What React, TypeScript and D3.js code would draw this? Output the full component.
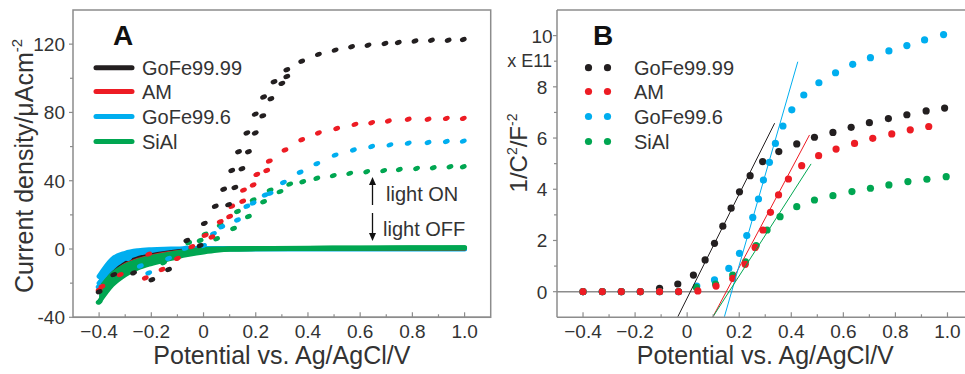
import * as d3 from "d3";

const seriesNames = ["GoFe99.99", "AM", "GoFe99.6", "SiAl"];
const seriesColors = ["#231f20", "#ed1c24", "#00aeef", "#00a651"];

const potentialLabels = [-0.4, -0.2, 0, 0.2, 0.4, 0.6, 0.8, 1.0];
const potentialMinor = [-0.3, -0.1, 0.1, 0.3, 0.5, 0.7, 0.9];
const currentLabels = [-40, 0, 40, 80, 120];
const currentMinor = [-20, 20, 60, 100];
const invCapLabels = [0, 2, 4, 6, 8, 10];
const invCapMinor = [1, 3, 5, 7, 9];

// panel A: photocurrent (light ON) points [V, µA/cm2]
const photoGoFe9999 = [
  [-0.4, -25], [-0.344, -15], [-0.268, -14], [-0.198, -18], [-0.134, -12], [-0.064, 5], [-0.013, 2],
  [0.003, 15], [0.045, 25], [0.096, 26], [0.077, 35], [0.12, 36], [0.108, 46], [0.147, 47],
  [0.134, 57], [0.172, 57], [0.166, 68], [0.198, 68], [0.198, 79], [0.227, 78], [0.23, 89],
  [0.258, 88], [0.27, 98], [0.3, 97], [0.319, 105], [0.319, 101], [0.376, 110], [0.44, 114],
  [0.504, 116.5], [0.567, 118.5], [0.63, 119.4], [0.695, 120.4], [0.746, 121], [0.81, 121.8],
  [0.873, 122.3], [0.937, 122.3], [0.995, 122.7],
];
const photoAM = [
  [-0.4, -24], [-0.389, -22], [-0.319, -15], [-0.223, -17], [-0.21, -3], [-0.159, -12], [-0.1, -5.5],
  [-0.045, 1.4], [0.006, 8], [0.032, 7], [0.064, 16], [0.1, 19], [0.108, 25], [0.15, 28],
  [0.153, 34.5], [0.19, 37.5], [0.204, 43.7], [0.242, 46], [0.252, 51.5], [0.312, 58], [0.376, 64],
  [0.44, 68], [0.51, 70.6], [0.58, 73], [0.644, 74], [0.708, 75], [0.784, 76], [0.86, 76],
  [0.93, 76.5], [0.995, 76.5],
];
const photoGoFe996 = [
  [-0.4, -22], [-0.287, -5.5], [-0.242, -10], [-0.21, -14], [-0.134, -5.5], [-0.07, 0.4], [0, 2],
  [0.038, 9], [0.07, 13], [0.13, 17], [0.166, 25], [0.19, 27], [0.236, 31.6], [0.255, 32.6],
  [0.306, 39], [0.37, 45], [0.434, 50], [0.504, 55], [0.574, 58], [0.644, 60], [0.714, 61],
  [0.784, 62], [0.86, 62.4], [0.93, 63], [0.995, 63.2],
];
const photoSiAl = [
  [-0.4, -31], [-0.153, -8], [-0.057, 3.7], [-0.013, 5], [0.006, 8.6], [0.05, 6], [0.064, 14],
  [0.115, 12], [0.13, 22], [0.172, 19], [0.19, 28.7], [0.23, 27.7], [0.255, 34.5], [0.293, 33.6],
  [0.33, 38], [0.38, 39.4], [0.434, 41.4], [0.497, 43], [0.56, 44.3], [0.625, 45.3], [0.69, 45.9],
  [0.75, 46.6], [0.816, 47.2], [0.88, 47.6], [0.944, 48.2], [0.995, 48.2],
];

// panel A: dark current (light OFF) curves
const darkPotential = [-0.4, -0.35, -0.3, -0.25, -0.2, -0.15, -0.1, -0.05, 0, 0.05, 0.1, 0.2, 0.4, 0.6, 0.8, 1.0];
const darkGoFe996Upper = [-16, -6, -2.5, -1, -0.4, -0.1, 0, 0.3, 0.3, 0.3, 0.3, 0.3, 0.3, 0.3, 0.3, 0.3];
const darkGoFe996Lower = [-20, -11, -6, -3.5, -2, -1.2, -0.6, -0.2, 0, 0, 0, 0, 0, 0, 0, 0];
const darkGoFe9999 = [-24, -14, -8, -5, -3.3, -2, -1, -0.4, 0, 0, 0, 0, 0, 0, 0, 0];
const darkAM = [-23, -15, -9, -6, -4, -2.5, -1.5, -0.7, -0.2, 0, 0, 0, 0, 0, 0, 0];
const darkSiAlFwd = [-24, -15, -10, -7, -5, -3.5, -2.2, -1.2, -0.5, 0, 0.2, 0.3, 0.5, 0.6, 0.7, 0.7];
const darkSiAlRev = [-31, -21, -15, -11, -8.5, -6.5, -4.5, -3, -1.8, -0.8, -0.2, 0.1, 0.3, 0.5, 0.6, 0.7];

// panel B: Mott-Schottky points [V, 1/C2 x E11]
const msGoFe9999 = [
  [-0.4, 0], [-0.326, 0], [-0.253, 0], [-0.18, 0], [-0.106, 0.13], [-0.036, 0.3], [0.024, 0.65],
  [0.069, 1.24], [0.105, 1.89], [0.137, 2.56], [0.169, 3.26], [0.201, 3.9], [0.242, 4.53],
  [0.29, 5.08], [0.352, 5.47], [0.421, 5.77], [0.489, 6.03], [0.56, 6.22], [0.63, 6.42],
  [0.7, 6.6], [0.773, 6.76], [0.844, 6.91], [0.918, 7.06], [0.989, 7.17],
];
const msAM = [
  [-0.4, 0], [-0.326, 0], [-0.253, 0], [-0.18, 0], [-0.106, 0], [-0.033, 0], [0.041, 0.03],
  [0.111, 0.22], [0.175, 0.52], [0.223, 1.07], [0.261, 1.73], [0.291, 2.41], [0.32, 3.1],
  [0.351, 3.78], [0.389, 4.4], [0.44, 4.92], [0.505, 5.31], [0.572, 5.57], [0.643, 5.79],
  [0.713, 5.99], [0.786, 6.16], [0.857, 6.32], [0.928, 6.45],
];
const msGoFe996 = [
  [-0.4, 0], [-0.326, 0], [-0.253, 0], [-0.18, 0], [-0.106, 0], [-0.033, 0], [0.037, 0.22],
  [0.105, 0.46], [0.16, 0.91], [0.201, 1.5], [0.229, 2.19], [0.252, 2.9], [0.274, 3.62],
  [0.293, 4.36], [0.316, 5.05], [0.339, 5.79], [0.368, 6.47], [0.402, 7.1], [0.448, 7.68],
  [0.506, 8.16], [0.57, 8.55], [0.636, 8.88], [0.704, 9.14], [0.775, 9.4], [0.844, 9.61],
  [0.912, 9.83], [0.985, 10.04],
];
const msSiAl = [
  [-0.4, 0], [-0.326, 0], [-0.253, 0], [-0.18, 0], [-0.106, 0], [-0.033, 0], [0.035, 0.17],
  [0.109, 0.3], [0.175, 0.65], [0.224, 1.17], [0.265, 1.8], [0.307, 2.41], [0.357, 2.93],
  [0.421, 3.32], [0.489, 3.58], [0.56, 3.75], [0.633, 3.91], [0.704, 4.04], [0.775, 4.17],
  [0.848, 4.3], [0.921, 4.39], [0.995, 4.49],
];

// linear fits: start / end points
const fitGoFe9999 = [[-0.036, -0.98], [0.336, 6.58]];
const fitAM = [[0.099, -0.98], [0.47, 6.12]];
const fitGoFe996 = [[0.143, -0.98], [0.425, 8.98]];
const fitSiAl = [[0.099, -0.98], [0.476, 4.99]];

const FONT = "'Liberation Sans', Arial, sans-serif";
const TXT = "#333";
const AXIS = "#8c8c8c";

const xA = d3.scaleLinear().domain([-0.5, 1.1]).range([73, 490.7]);
const yA = d3.scaleLinear().domain([-40, 140]).range([317.3, 10]);
const xB = d3.scaleLinear().domain([-0.5, 1.07]).range([557, 965.7]);
const yB = d3.scaleLinear().domain([-1, 11]).range([317.3, 10]);

const fmt = (v: number) => (v === 0 ? "0" : v === 1 ? "1.0" : d3.format(".1f")(v));

function XAxis({ x, y0, x1 }: any) {
  return (
    <g>
      <line x1={x.range()[0]} x2={x1} y1={y0} y2={y0} stroke={AXIS} strokeWidth={1.5} />
      {potentialLabels.map((v) => (
        <g key={"M" + v}>
          <line x1={x(v)} x2={x(v)} y1={y0} y2={y0 - 5} stroke={AXIS} strokeWidth={1.2} />
          <text x={x(v)} y={y0 + 21} textAnchor="middle" fontSize={19} fill={TXT} fontFamily={FONT}>
            {fmt(v)}
          </text>
        </g>
      ))}
      {potentialMinor.map((v) => (
        <line key={"m" + v} x1={x(v)} x2={x(v)} y1={y0} y2={y0 - 3} stroke={AXIS} strokeWidth={1.2} />
      ))}
      <text x={(x(-0.4) + x(1.0)) / 2} y={364} textAnchor="middle" fontSize={25} fill={TXT} fontFamily={FONT}>
        Potential vs. Ag/AgCl/V
      </text>
    </g>
  );
}

function App() {
  const darkLine = (vals: number[]) =>
    d3.line<number>().x((_, i) => xA(darkPotential[i])).y((d) => yA(d)).curve(d3.curveMonotoneX)(vals);
  const band = (lo: number[], hi: number[]) =>
    d3
      .area<number>()
      .x((_, i) => xA(darkPotential[i]))
      .y0((_, i) => yA(lo[i]))
      .y1((_, i) => yA(hi[i]))
      .curve(d3.curveMonotoneX)(darkPotential);

  const darkCurves = [
    { vals: darkGoFe996Upper, color: seriesColors[2], w: 5 },
    { vals: darkGoFe996Lower, color: seriesColors[2], w: 5 },
    { vals: darkGoFe9999, color: seriesColors[0], w: 3 },
    { vals: darkAM, color: seriesColors[1], w: 3 },
    { vals: darkSiAlFwd, color: seriesColors[3], w: 5 },
    { vals: darkSiAlRev, color: seriesColors[3], w: 5 },
  ];
  const photoSets = [
    { pts: photoSiAl, color: seriesColors[3] },
    { pts: photoGoFe996, color: seriesColors[2] },
    { pts: photoAM, color: seriesColors[1] },
    { pts: photoGoFe9999, color: seriesColors[0] },
  ];
  const msSets = [
    { pts: msGoFe9999, color: seriesColors[0] },
    { pts: msGoFe996, color: seriesColors[2] },
    { pts: msSiAl, color: seriesColors[3] },
    { pts: msAM, color: seriesColors[1] },
  ];
  const fits = [
    { p: fitGoFe9999, color: seriesColors[0] },
    { p: fitAM, color: seriesColors[1] },
    { p: fitGoFe996, color: seriesColors[2] },
    { p: fitSiAl, color: seriesColors[3] },
  ];

  const legendY = [67.7, 91.5, 116.5, 141.5];

  return (
    <svg width={965} height={374} style={{ position: "absolute", left: 0, top: 0, background: "#fff" }}>
      <defs>
        <clipPath id="clipA">
          <rect x={73} y={10} width={417.7} height={307.3} />
        </clipPath>
        <clipPath id="clipB">
          <rect x={557} y={10} width={410} height={307.3} />
        </clipPath>
      </defs>

      {/* ---------- panel A ---------- */}
      <g clipPath="url(#clipA)">
        <path d={band(darkGoFe996Lower, darkGoFe996Upper) || ""} fill={seriesColors[2]} />
        {darkCurves.slice(0, 4).map((c, i) => (
          <path key={i} d={darkLine(c.vals) || ""} fill="none" stroke={c.color} strokeWidth={c.w} strokeLinecap="round" />
        ))}
        <path d={band(darkSiAlRev, darkSiAlFwd) || ""} fill={seriesColors[3]} />
        {darkCurves.slice(4).map((c, i) => (
          <path key={"g" + i} d={darkLine(c.vals) || ""} fill="none" stroke={c.color} strokeWidth={c.w} strokeLinecap="round" />
        ))}
        {photoSets.map((s, si) =>
          s.pts.map((p, i) => (
            <ellipse
              key={si + "-" + i}
              cx={xA(p[0])}
              cy={yA(p[1])}
              rx={3.5}
              ry={2.4}
              fill={s.color}
              transform={`rotate(-22 ${xA(p[0])} ${yA(p[1])})`}
            />
          ))
        )}
      </g>
      <rect x={73} y={10} width={417.7} height={307.3} fill="none" stroke={AXIS} strokeWidth={1.5} />
      <XAxis x={xA} y0={317.3} x1={490.7} />
      {currentLabels.map((v) => (
        <g key={"ya" + v}>
          <line x1={69} x2={73} y1={yA(v)} y2={yA(v)} stroke={AXIS} strokeWidth={1.2} />
          <text x={65} y={yA(v) + 7} textAnchor="end" fontSize={19} fill={TXT} fontFamily={FONT}>
            {v}
          </text>
        </g>
      ))}
      {currentMinor.map((v) => (
        <line key={"yam" + v} x1={70} x2={73} y1={yA(v)} y2={yA(v)} stroke={AXIS} strokeWidth={1.2} />
      ))}
      <text transform="translate(33,166) rotate(-90)" textAnchor="middle" fontSize={25} fill={TXT} fontFamily={FONT}>
        Current density/μAcm
        <tspan fontSize={15} dy={-11}>-2</tspan>
      </text>
      <text x={123} y={45} textAnchor="middle" fontSize={28} fontWeight="bold" fill="#111" fontFamily={FONT}>
        A
      </text>
      {seriesNames.map((n, i) => (
        <g key={"la" + n}>
          <line x1={96} x2={132} y1={legendY[i]} y2={legendY[i]} stroke={seriesColors[i]} strokeWidth={5} strokeLinecap="round" />
          <text x={142} y={legendY[i] + 7} fontSize={20} fill={TXT} fontFamily={FONT}>
            {n}
          </text>
        </g>
      ))}
      {/* light ON / OFF arrows */}
      <line x1={372.5} x2={372.5} y1={205} y2={182} stroke="#111" strokeWidth={1.3} />
      <path d="M372.5,177 L369,185 L376,185 Z" fill="#111" />
      <line x1={372.5} x2={372.5} y1={213} y2={236} stroke="#111" strokeWidth={1.3} />
      <path d="M372.5,241 L369,233 L376,233 Z" fill="#111" />
      <text x={386} y={201} fontSize={20} fill={TXT} fontFamily={FONT}>light ON</text>
      <text x={383} y={236} fontSize={20} fill={TXT} fontFamily={FONT}>light OFF</text>

      {/* ---------- panel B ---------- */}
      <line x1={557} x2={965} y1={yB(0)} y2={yB(0)} stroke={AXIS} strokeWidth={1.6} />
      <g clipPath="url(#clipB)">
        {msSets.map((s, si) =>
          s.pts.map((p, i) => (
            <circle key={si + "-" + i} cx={xB(p[0])} cy={yB(p[1])} r={3.6} fill={s.color} />
          ))
        )}
        {fits.map((f, i) => (
          <line
            key={"f" + i}
            x1={xB(f.p[0][0])}
            y1={yB(f.p[0][1])}
            x2={xB(f.p[1][0])}
            y2={yB(f.p[1][1])}
            stroke={f.color}
            strokeWidth={1}
          />
        ))}
      </g>
      <line x1={557} x2={965} y1={10} y2={10} stroke={AXIS} strokeWidth={1.5} />
      <line x1={557} x2={557} y1={10} y2={317.3} stroke={AXIS} strokeWidth={1.5} />
      <XAxis x={xB} y0={317.3} x1={965} />
      {invCapLabels.map((v) => (
        <g key={"yb" + v}>
          <line x1={553} x2={557} y1={yB(v)} y2={yB(v)} stroke={AXIS} strokeWidth={1.2} />
          <text x={542} y={yB(v) + 7} textAnchor="middle" fontSize={19} fill={TXT} fontFamily={FONT}>
            {v}
          </text>
        </g>
      ))}
      {invCapMinor.map((v) => (
        <line key={"ybm" + v} x1={554} x2={557} y1={yB(v)} y2={yB(v)} stroke={AXIS} strokeWidth={1.2} />
      ))}
      <text x={552} y={yB(9) + 6} textAnchor="end" fontSize={18} fill={TXT} fontFamily={FONT}>
        x E11
      </text>
      <text transform="translate(527,153) rotate(-90)" textAnchor="middle" fontSize={24} fill={TXT} fontFamily={FONT}>
        1/C<tspan fontSize={14} dy={-10}>2</tspan>
        <tspan dy={10}>/F</tspan>
        <tspan fontSize={14} dy={-10}>-2</tspan>
      </text>
      <text x={603} y={45} textAnchor="middle" fontSize={28} fontWeight="bold" fill="#111" fontFamily={FONT}>
        B
      </text>
      {seriesNames.map((n, i) => (
        <g key={"lb" + n}>
          <circle cx={588.5} cy={legendY[i]} r={3.6} fill={seriesColors[i]} />
          <circle cx={607.5} cy={legendY[i]} r={3.6} fill={seriesColors[i]} />
          <text x={634} y={legendY[i] + 7} fontSize={20} fill={TXT} fontFamily={FONT}>
            {n}
          </text>
        </g>
      ))}
    </svg>
  );
}

export default App;
